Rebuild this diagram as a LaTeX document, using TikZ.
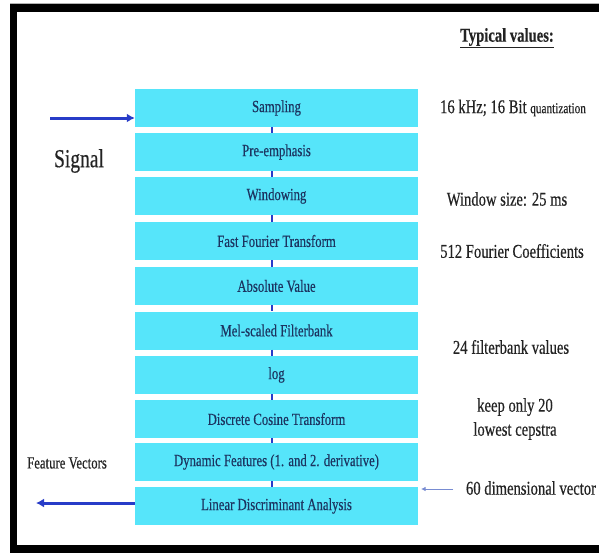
\documentclass[tikz,border=0pt]{standalone}
\usepackage{fontspec}
\setmainfont{Liberation Serif}
\newfontfamily\narrowserif{Liberation Serif}[FakeStretch=0.75,FakeBold=0.4]
\usetikzlibrary{arrows.meta}

\definecolor{stagefill}{RGB}{86,229,250}
\definecolor{stagetext}{RGB}{28,52,96}
\definecolor{flowblue}{RGB}{40,60,200}
\definecolor{notegray}{RGB}{35,35,35}
\definecolor{thinblue}{RGB}{120,140,210}

\begin{document}
\begin{tikzpicture}[x=1pt,y=-1pt,
  stage/.style={fill=stagefill, minimum width=283pt, minimum height=38pt,
    inner sep=0pt, text=stagetext, font=\narrowserif\fontsize{17}{19}\selectfont},
  note/.style={text=notegray, font=\narrowserif\fontsize{19.5}{24}\selectfont,
    align=center, inner sep=0pt},
  link/.style={draw=flowblue, line width=2pt},
  bigarrow/.style={draw=flowblue, line width=3pt, -{Latex[length=8pt,width=9pt]}},
  thinarrow/.style={draw=thinblue, line width=1pt, -{Latex[length=4.5pt,width=4.5pt]}}]

\useasboundingbox (0,0) rectangle (599,552);
% page and black frame
\fill[white] (0,0) rectangle (599,552);
\fill[black] (10,3.5) rectangle (605,556);
\fill[white] (17,12) rectangle (605,545);
\draw[gray!60, line width=0.8pt] (10,3.2) -- (599,3.2);

% processing stages
\node[stage] (s1)  at (276.5,108)   {Sampling};
\node[stage] (s2)  at (276.5,152)   {Pre-emphasis};
\node[stage] (s3)  at (276.5,196)   {Windowing};
\node[stage] (s4)  at (276.5,241)   {Fast Fourier Transform};
\node[stage] (s5)  at (276.5,286)   {Absolute Value};
\node[stage] (s6)  at (276.5,330.5) {Mel-scaled Filterbank};
\node[stage] (s7)  at (276.5,375)   {log};
\node[stage] (s8)  at (276.5,419)   {Discrete Cosine Transform};
\node[stage] (s9)  at (276.5,462)   {Dynamic Features (1. and 2. derivative)};
\node[stage] (s10) at (276.5,506)   {Linear Discriminant Analysis};

% short links between stages
\foreach \a/\b in {s1/s2,s2/s3,s3/s4,s4/s5,s5/s6,s6/s7,s7/s8,s8/s9,s9/s10}
  \draw[link] ([xshift=-4.5pt]\a.south) -- ([xshift=-4.5pt]\b.north);

% input and output
\coordinate (sigsrc) at (50,118);
\draw[bigarrow] (sigsrc) -- (sigsrc -| s1.west);
\node[text=notegray, font=\narrowserif\fontsize{26}{28}\selectfont, inner sep=0pt]
  (siglabel) at (79,161) {Signal};

\coordinate (featdst) at (36,503);
\draw[bigarrow] (featdst -| s10.west) -- (featdst);
\node[text=notegray, font=\narrowserif\fontsize{17}{19}\selectfont, inner sep=0pt]
  (featlabel) at (67,463) {Feature Vectors};

% typical values column
\node[text=notegray, font=\narrowserif\bfseries\fontsize{19.5}{22}\selectfont, inner sep=0pt]
  (tvhead) at (507,38) {\underline{Typical values:}};
\node[note] (v1) at (513,108)
  {16 kHz; 16 Bit {\fontsize{15}{17}\selectfont quantization}};
\node[note] (v3) at (507,199) {Window size: 25 ms};
\node[note] (v4) at (512,251) {512 Fourier Coefficients};
\node[note] (v6) at (511,347) {24 filterbank values};
\node[note] (v8) at (515,419) {keep only 20\\lowest cepstra};
\node[note] (v10) at (531,488) {60 dimensional vector};

\coordinate (vecsrc) at (453,489);
\coordinate (vecdst) at (421,489);
\draw[thinarrow] (vecsrc) -- (vecdst);
\end{tikzpicture}
\end{document}
